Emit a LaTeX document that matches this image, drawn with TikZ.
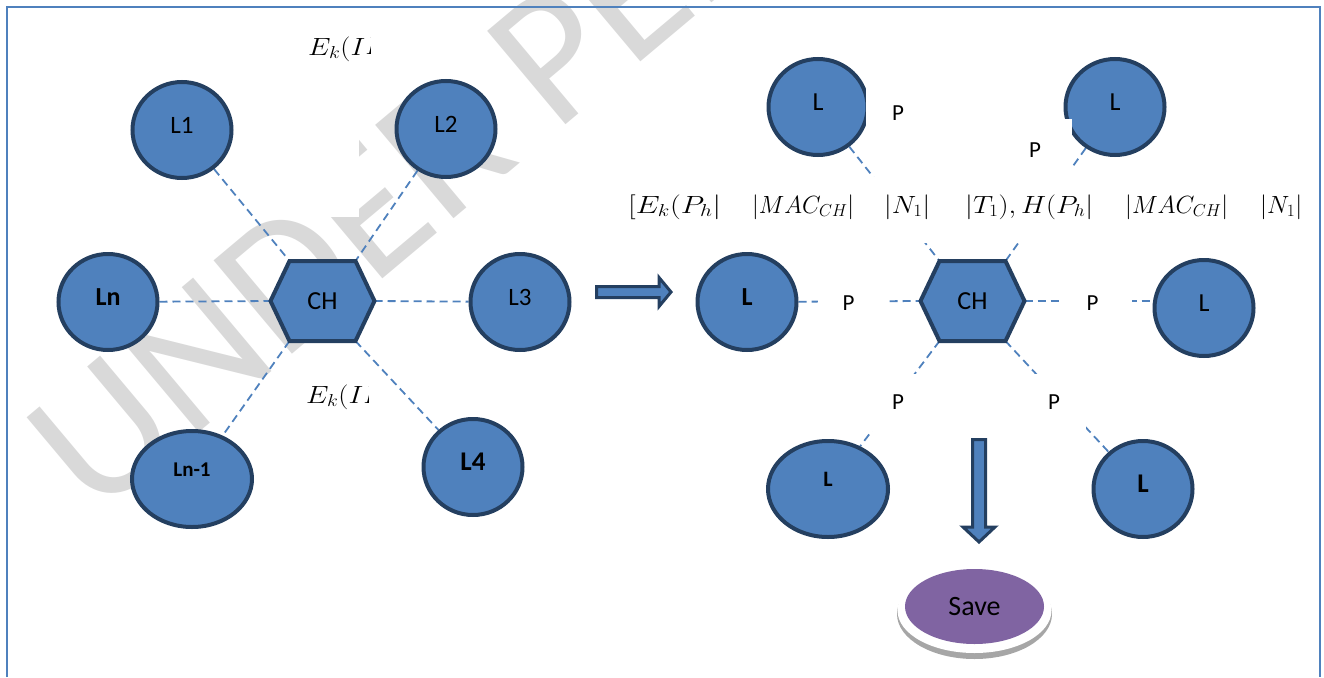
\documentclass[tikz,border=0pt]{standalone}
\usepackage[no-math]{fontspec}
\setmainfont{Carlito}
\usetikzlibrary{shapes.geometric,calc}
\pgfdeclarelayer{wm}
\pgfdeclarelayer{bg}
\pgfsetlayers{wm,bg,main}
\definecolor{nodeblue}{HTML}{4F81BD}
\definecolor{navyline}{HTML}{243F60}
\definecolor{savepurple}{HTML}{8064A2}
\definecolor{wmgray}{HTML}{D9D9D9}
\definecolor{rimgray}{HTML}{A6A6A6}
\newcommand\mfit[2]{\resizebox{#1pt}{\height}{$#2$}}
\newcommand\hexagonat[2]{%
  \path (#2) +(-52,0) coordinate (#1-l) +(-33,-40) coordinate (#1-tl)
        +(33,-40) coordinate (#1-tr) +(52,0) coordinate (#1-r)
        +(33,40) coordinate (#1-br) +(-33,40) coordinate (#1-bl);
  \draw[hexbox] (#1-l) -- (#1-tl) -- (#1-tr) -- (#1-r) -- (#1-br) -- (#1-bl) -- cycle;
  \node[lbl] (#1) at (#2) {CH};}
\begin{document}
\begin{tikzpicture}[x=1pt,y=-1pt,
  leaf/.style={ellipse, draw=navyline, fill=nodeblue, line width=4pt, inner sep=0pt,
    minimum width=99pt, minimum height=96pt, text height=16pt, text depth=10pt,
    font=\fontsize{25}{25}\selectfont},
  wideleaf/.style={leaf, minimum width=120pt, text height=14pt, text depth=20pt},
  hexbox/.style={draw=navyline, fill=nodeblue, line width=4pt},
  link/.style={draw=nodeblue, line width=1.8pt, dash pattern=on 8pt off 5pt},
  pbox/.style={fill=white, inner sep=0pt, minimum width=64pt, minimum height=57pt,
    font=\fontsize{23}{23}\selectfont},
  mathtxt/.style={inner sep=0pt, anchor=base west, font=\fontsize{27}{30}\selectfont},
  blockarrow/.style={fill=nodeblue, draw=navyline, line width=3pt},
  lbl/.style={font=\fontsize{26}{26}\selectfont, inner sep=0pt},
  framecol/.style={draw=nodeblue, line width=2pt},
  wmtext/.style={text=wmgray, font=\fontsize{190}{190}\selectfont, inner sep=0pt}]
\useasboundingbox (0,0) rectangle (1324,677);

% watermark
\begin{pgfonlayer}{wm}
  \begin{scope}
    \clip (0,0) rectangle (1324,677);
    \node[wmtext, rotate=40, anchor=base west] (wmark) at (95,520) {UNDER PEER REVIEW};
    \fill[white] (298,20) rectangle (359,217);
  \end{scope}
\end{pgfonlayer}

% frame
\draw[framecol] (7,677) -- (7,7) -- (1320,7) -- (1320,677);

% ---------- left cluster ----------
\node[leaf] (L1) at (182,130) {L1};
\node[leaf] (L2) at (446,129) {L2};
\node[leaf, font=\fontsize{26}{26}\selectfont\bfseries] (Ln) at (108,302) {Ln};
\node[leaf] (L3) at (520,302) {L3};
\node[wideleaf, font=\fontsize{21}{21}\selectfont\bfseries] (Ln1) at (192,479) {Ln-1};
\node[leaf, font=\fontsize{27}{27}\selectfont\bfseries] (L4) at (473,467) {L4};
\hexagonat{CHa}{322.5,301}

\begin{pgfonlayer}{bg}
  \draw[link] (L1) -- (CHa-tl);
  \draw[link] (L2) -- (CHa-tr);
  \draw[link] (Ln) -- (CHa-l);
  \draw[link] (CHa-r) -- (L3);
  \draw[link] (CHa-bl) -- (Ln1);
  \draw[link] (CHa-br) -- (L4);
\end{pgfonlayer}

% clipped E_k(I... labels
\node[mathtxt] (ekA) at (308,55) {\mfit{57}{E_k(I}};
\begin{scope}
  \clip ($(ekA.base east)+(0,-30)$) rectangle ($(ekA.base east)+(5,10)$);
  \node[mathtxt] (ekAcut) at (ekA.base east) {$D$};
\end{scope}
\node[mathtxt] (ekB) at (306,403) {\mfit{57}{E_k(I}};
\begin{scope}
  \clip ($(ekB.base east)+(0,-30)$) rectangle ($(ekB.base east)+(5,10)$);
  \node[mathtxt] (ekBcut) at (ekB.base east) {$D$};
\end{scope}

% arrow to the right
\draw[blockarrow] (596.5,286.5) -- (659,286.5) -- (659,277.5) -- (671,292)
  -- (659,306.5) -- (659,297.5) -- (596.5,297.5) -- cycle;

% ---------- right cluster ----------
\node[leaf, font=\fontsize{26}{26}\selectfont] (RTL) at (818,107) {L};
\node[leaf, font=\fontsize{26}{26}\selectfont] (RTR) at (1115,107) {L};
\node[leaf, font=\fontsize{26}{26}\selectfont\bfseries] (RML) at (747,302) {L};
\node[leaf, font=\fontsize{26}{26}\selectfont] (RMR) at (1204,308) {L};
\node[wideleaf, font=\fontsize{22}{22}\selectfont\bfseries] (RBL) at (828,489) {L};
\node[leaf, font=\fontsize{27}{27}\selectfont\bfseries] (RBR) at (1143,489) {L};
\hexagonat{CHb}{972.5,301}

\begin{pgfonlayer}{bg}
  \draw[link] (RTL) -- (CHb-tl);
  \draw[link] (RTR) -- (CHb-tr);
  \draw[link] (RML) -- (CHb-l);
  \draw[link] (CHb-r) -- (CHb-r -| RMR.west);
  \draw[link] (CHb-bl) -- (RBL);
  \draw[link] (CHb-br) -- (RBR);
\end{pgfonlayer}

% P labels (white boxes hiding the middle of the links)
\node[pbox] (P1) at (898,113) {P};
\node[pbox, minimum width=70pt, minimum height=62pt] (P2) at (1037,150) {P\hspace*{4pt}};
\node[pbox, minimum width=71pt] (P3) at (853.5,303) {P\hspace*{10pt}};
\node[pbox, minimum width=69pt] (P4) at (1097.5,303) {P\hspace*{10pt}};
\node[pbox] (P5) at (898,402) {P};
\node[pbox] (P6) at (1054,402) {P};

% message line
\node[fill=white, inner sep=0pt, minimum width=690pt, minimum height=66pt] (mbox) at (962,210) {};
\node[mathtxt] (m1) at (628,213) {\mfit{93}{[E_k(P_h|}};
\node[mathtxt] (m2) at (752,213) {\mfit{102}{|MAC_{CH}|}};
\node[mathtxt] (m3) at (884,213) {\mfit{46}{|N_1|}};
\node[mathtxt] (m4) at (965,213) {\mfit{128}{|T_1),H(P_h|}};
\node[mathtxt] (m5) at (1125,213) {\mfit{103}{|MAC_{CH}|}};
\begin{scope}
  \clip (1250,180) rectangle (1303,240);
  \node[mathtxt] (m6) at (1260,213) {\mfit{42}{|N_1|}};
\end{scope}

% down arrow
\draw[blockarrow] (972.5,439.5) -- (985.5,439.5) -- (985.5,527) -- (995,527)
  -- (979,542) -- (963,527) -- (972.5,527) -- cycle;

% Save
\fill[rimgray] (974.5,614) ellipse [x radius=77.5pt, y radius=45pt];
\fill[white] (974.5,610.5) ellipse [x radius=77pt, y radius=42.5pt];
\node[ellipse, fill=savepurple, inner sep=0pt, minimum width=139pt, minimum height=75pt,
  font=\fontsize{28}{28}\selectfont] (save) at (974.5,606.5) {Save};
\end{tikzpicture}
\end{document}
